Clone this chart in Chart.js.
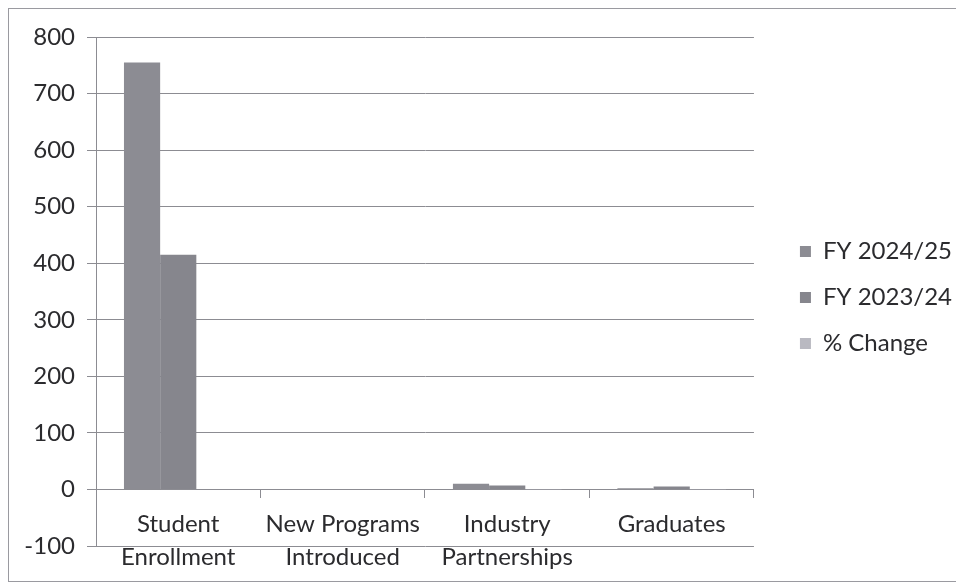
<!DOCTYPE html>
<html>
<head>
<meta charset="utf-8">
<script src="https://cdn.jsdelivr.net/npm/chart.js@4/dist/chart.umd.min.js"></script>
<style>
  html, body { margin: 0; padding: 0; background: #ffffff; }
  #wrap { position: relative; width: 956px; height: 586px; overflow: hidden; }
  #frame { position: absolute; left: 8px; top: 8px; width: 960px; height: 574px; border: 1px solid #9a9aa0; box-sizing: border-box; pointer-events: none; }
  canvas { position: absolute; left: 0; top: 0; }
</style>
</head>
<body>
<div id="wrap">
  <canvas id="chart" width="956" height="586"></canvas>
  <div id="frame"></div>
</div>
<script>
// Categories and series
const categories = [
  ['Student', 'Enrollment'],
  ['New Programs', 'Introduced'],
  ['Industry', 'Partnerships'],
  ['Graduates']
];
const fy2425 = [755, 1, 10, 2];
const fy2324 = [415, 1, 7, 5];
const pctChange = [0.82, 0, 0.43, -0.6];
const yTicks = { min: -100, max: 800, step: 100 };

const FONT = 'Lato, "Open Sans", sans-serif';
const textColor = '#2b2b2e';
const gridColor = '#8c8c92';

// Nudge the legend block away from the plot area, keeping the plot width
const legendOffset = {
  id: 'legendOffset',
  afterLayout(chart) {
    const lg = chart.legend;
    if (!lg) return;
    const dx = 24, dy = 6;
    lg.left += dx; lg.right += dx;
    lg.top += dy; lg.bottom += dy;
    if (lg.legendHitBoxes) lg.legendHitBoxes.forEach(b => { b.left += dx; b.top += dy; });
  }
};

new Chart(document.getElementById('chart'), {
  type: 'bar',
  data: {
    labels: categories,
    datasets: [
      { label: 'FY 2024/25', data: fy2425, backgroundColor: '#8c8c93' },
      { label: 'FY 2023/24', data: fy2324, backgroundColor: '#86868d' },
      { label: '% Change', data: pctChange, backgroundColor: '#b9b9c1' }
    ]
  },
  plugins: [legendOffset],
  options: {
    responsive: false,
    animation: false,
    devicePixelRatio: 1,
    datasets: { bar: { categoryPercentage: 0.66, barPercentage: 1.0 } },
    layout: { padding: { left: 0, top: 37, bottom: 40, right: 18 } },
    plugins: {
      tooltip: { enabled: false },
      legend: {
        position: 'right',
        labels: {
          boxWidth: 11,
          boxHeight: 11,
          padding: 22,
          color: textColor,
          font: { family: FONT, size: 24 }
        }
      }
    },
    scales: {
      x: {
        position: { y: 0 },
        grid: { drawOnChartArea: false, drawTicks: true, tickLength: 8, color: gridColor, offset: true },
        border: { display: true, color: gridColor, width: 1 },
        ticks: { color: textColor, padding: 11, font: { family: FONT, size: 24, lineHeight: 1.35 }, maxRotation: 0, autoSkip: false }
      },
      y: {
        min: yTicks.min,
        max: yTicks.max,
        afterFit: (scale) => { scale.width = 96; },
        grid: { color: gridColor, lineWidth: 1, tickLength: 9 },
        border: { display: true, color: gridColor, width: 1 },
        ticks: { stepSize: yTicks.step, color: textColor, padding: 12, font: { family: FONT, size: 24 } }
      }
    }
  }
});
</script>
</body>
</html>
